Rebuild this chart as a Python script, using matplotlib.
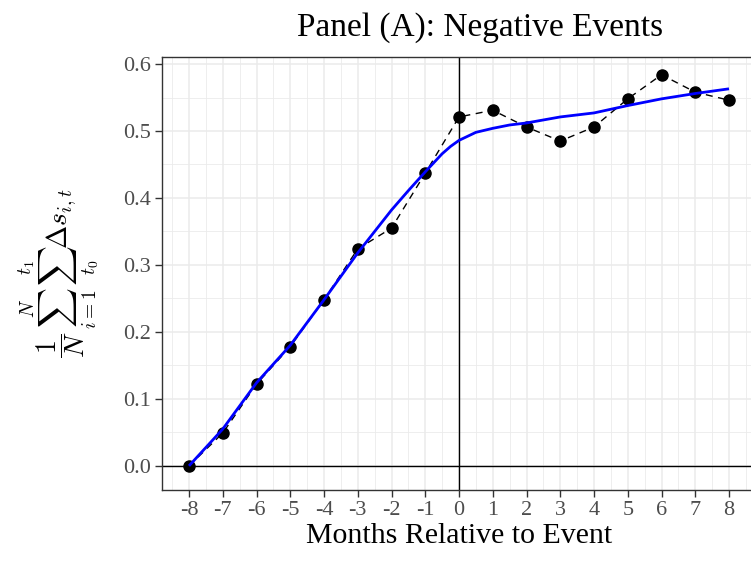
import numpy as np
import matplotlib
matplotlib.use("Agg")
import matplotlib.pyplot as plt
from matplotlib.ticker import MultipleLocator

# event-time months and mean cumulative change
months = [-8, -7, -6, -5, -4, -3, -2, -1, 0, 1, 2, 3, 4, 5, 6, 7, 8]
mean_change = [0.000, 0.049, 0.122, 0.178, 0.248, 0.324, 0.355, 0.437, 0.521,
               0.531, 0.506, 0.485, 0.506, 0.548, 0.584, 0.558, 0.546]

# smoothed fit
smooth_x = [-8, -7, -6, -5, -4, -3, -2, -1.5, -1, -0.5, -0.25, 0, 0.25, 0.5,
            1, 1.5, 2, 3, 4, 5, 6, 7, 8]
smooth_y = [0.000, 0.055, 0.124, 0.180, 0.248, 0.318, 0.382, 0.411, 0.439,
            0.466, 0.477, 0.486, 0.492, 0.498, 0.504, 0.509, 0.512, 0.521,
            0.527, 0.538, 0.548, 0.556, 0.563]

serif = ["Liberation Serif", "DejaVu Serif"]
plt.rcParams["font.family"] = serif
plt.rcParams["mathtext.fontset"] = "cm"

fig = plt.figure(figsize=(7.51, 5.61), dpi=100)
ax = fig.add_axes([162 / 751, 1 - 490 / 561, (756 - 162) / 751, (490 - 57) / 561])

# grid like theme_bw
ax.set_axisbelow(True)
ax.xaxis.set_major_locator(MultipleLocator(1))
ax.xaxis.set_minor_locator(MultipleLocator(0.5))
ax.yaxis.set_major_locator(MultipleLocator(0.1))
ax.yaxis.set_minor_locator(MultipleLocator(0.05))
ax.grid(which="major", color="#EBEBEB", linewidth=1.1)
ax.grid(which="minor", color="#EBEBEB", linewidth=0.6)

ax.axhline(0, color="black", linewidth=1.0, zorder=1)
ax.axvline(0, color="black", linewidth=1.0, zorder=1)

ax.plot(months, mean_change, color="black", linestyle=(0, (5, 4)),
        linewidth=1.0, marker="o", markersize=8, zorder=3)
ax.plot(smooth_x, smooth_y, color="blue", linewidth=2.0, zorder=4,
        solid_capstyle="butt")

ax.set_xlim(-8.8, 8.8)
ax.set_ylim(-0.036, 0.6105)
ax.set_xticks(months)
ax.set_xticklabels([str(m) for m in months])
ax.set_yticks([0.0, 0.1, 0.2, 0.3, 0.4, 0.5, 0.6])
ax.set_yticklabels(["0.0", "0.1", "0.2", "0.3", "0.4", "0.5", "0.6"])

for s in ax.spines.values():
    s.set_color("#333333")
    s.set_linewidth(1.0)
ax.tick_params(which="major", length=5, width=1.0, color="#333333",
               labelcolor="#4D4D4D", labelsize=16, pad=3)
ax.tick_params(which="minor", length=0)

# title is centred on the whole figure width in the original
fig.text(480 / 751, 1 - 36 / 561, "Panel (A): Negative Events", fontsize=24,
         ha="center", va="baseline")
ax.set_xlabel("Months Relative to Event", fontsize=21.5, labelpad=2)
ax.set_ylabel(r"$\dfrac{1}{N}\,\sum_{i=1}^{N}\,\sum_{t_0}^{t_1}\Delta s_{i,t}$",
              fontsize=20, labelpad=16)

fig.savefig("out.png", dpi=100)
